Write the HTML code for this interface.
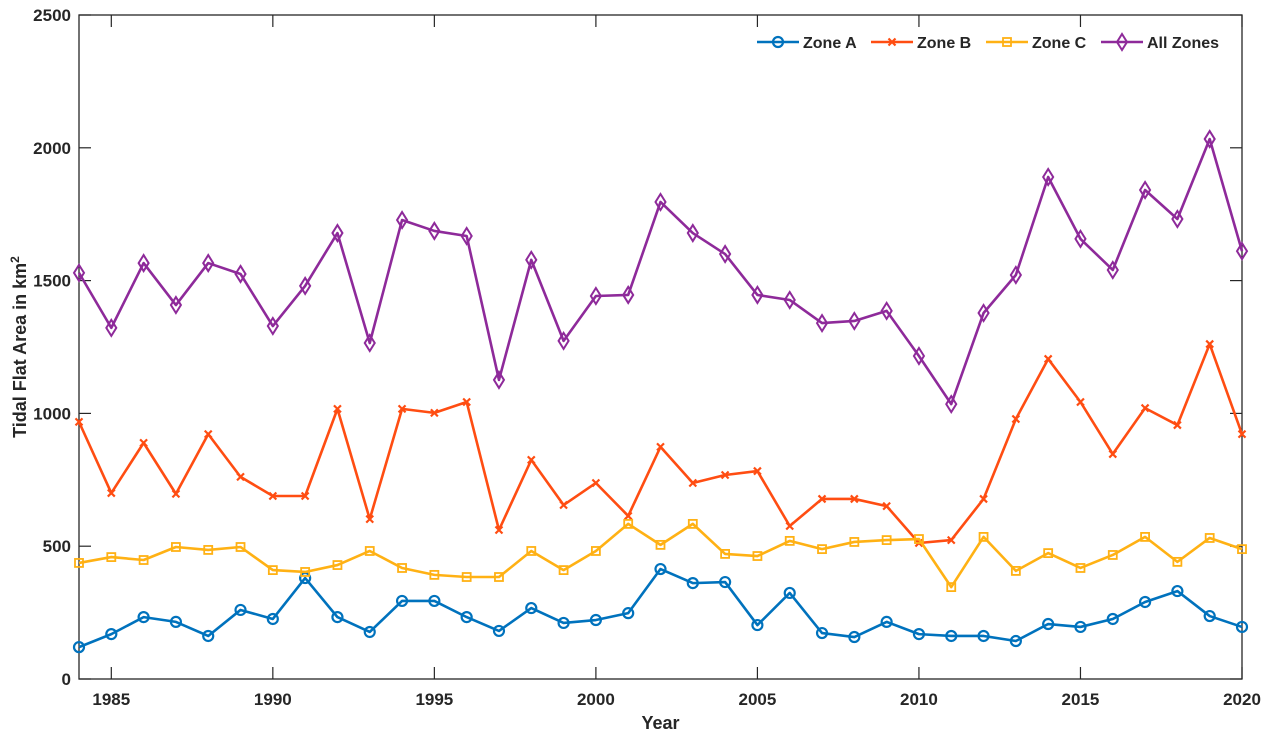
<!DOCTYPE html>
<html><head><meta charset="utf-8"><style>
body{margin:0;background:#fff;}
svg text{font-family:"Liberation Sans",Arial,sans-serif;font-weight:bold;fill:#262626;}
</style></head><body>
<svg id="chart" width="1268" height="737" xmlns="http://www.w3.org/2000/svg"></svg>
<script>
const years=[1984,1985,1986,1987,1988,1989,1990,1991,1992,1993,1994,1995,1996,1997,1998,1999,2000,2001,2002,2003,2004,2005,2006,2007,2008,2009,2010,2011,2012,2013,2014,2015,2016,2017,2018,2019,2020];
const zoneA=[120,169,233,215,162,260,226,380,233,177,294,294,233,181,267,211,222,248,414,361,365,203,324,173,158,215,169,162,162,143,207,196,226,290,331,237,196];
const zoneB=[968,700,889,697,922,761,689,689,1017,602,1017,1002,1043,561,825,655,738,614,874,738,768,783,576,678,678,651,512,523,678,979,1205,1043,847,1020,956,1261,922];
const zoneC=[437,459,448,497,486,497,410,403,429,482,418,392,384,384,482,410,482,584,505,584,471,463,520,489,516,523,527,346,535,407,474,418,467,535,441,531,489];
const allZones=[1529,1322,1566,1408,1566,1525,1329,1480,1679,1265,1728,1687,1668,1126,1578,1273,1442,1446,1796,1679,1600,1446,1427,1340,1348,1386,1216,1035,1378,1521,1890,1657,1540,1841,1732,2033,1611];
const xTicks=[1985,1990,1995,2000,2005,2010,2015,2020];
const yTicks=[0,500,1000,1500,2000,2500];
const L=79,R=1242,T=15,B=679;
const X=v=>L+(v-1984)/(2020-1984)*(R-L);
const Y=v=>B-v/2500*(B-T);
const svg=document.getElementById('chart');
const NS='http://www.w3.org/2000/svg';
function el(t,a,p){const e=document.createElementNS(NS,t);for(const k in a)e.setAttribute(k,a[k]);(p||svg).appendChild(e);return e;}
// axes box
const box=el('rect',{x:L,y:T,width:R-L,height:B-T,fill:'none',stroke:'#262626','stroke-width':1.3});


xTicks.forEach(v=>{
  el('line',{x1:X(v),x2:X(v),y1:B,y2:B-12,stroke:'#262626','stroke-width':1.2});
  el('line',{x1:X(v),x2:X(v),y1:T,y2:T+12,stroke:'#262626','stroke-width':1.2});
  const t=el('text',{x:X(v),y:B+26,'text-anchor':'middle','font-size':17});t.textContent=v;
  
  
});
yTicks.forEach(v=>{
  el('line',{x1:L,x2:L+12,y1:Y(v),y2:Y(v),stroke:'#262626','stroke-width':1.2});
  el('line',{x1:R,x2:R-12,y1:Y(v),y2:Y(v),stroke:'#262626','stroke-width':1.2});
  const t=el('text',{x:L-8,y:Y(v)+6,'text-anchor':'end','font-size':17});t.textContent=v;
  
  
});
const xt=el('text',{x:(L+R)/2,y:729,'text-anchor':'middle','font-size':18});xt.textContent='Year';


const yt=el('text',{x:0,y:0,'text-anchor':'middle','font-size':18,transform:`translate(26,${(T+B)/2}) rotate(-90)`});
yt.innerHTML='Tidal Flat Area in km<tspan font-size="12" dy="-7">2</tspan>';


function marker(type,x,y,c,g){
  if(type==='o')return el('circle',{cx:x,cy:y,r:5,fill:'none',stroke:c,'stroke-width':2.2},g);
  if(type==='s')return el('rect',{x:x-4,y:y-4,width:8,height:8,fill:'none',stroke:c,'stroke-width':1.8},g);
  if(type==='d')return el('path',{d:`M${x} ${y-8}L${x+5} ${y}L${x} ${y+8}L${x-5} ${y}Z`,fill:'none',stroke:c,'stroke-width':2},g);
  return el('path',{d:`M${x-3.5} ${y-3.5}L${x+3.5} ${y+3.5}M${x-3.5} ${y+3.5}L${x+3.5} ${y-3.5}`,stroke:c,'stroke-width':2.2},g);
}
const series=[
 {name:'Zone A',d:zoneA,c:'#0072BD',m:'o',id:'zone-a'},
 {name:'Zone B',d:zoneB,c:'#FF4D12',m:'x',id:'zone-b'},
 {name:'Zone C',d:zoneC,c:'#FFB114',m:'s',id:'zone-c'},
 {name:'All Zones',d:allZones,c:'#8E2A9A',m:'d',id:'all-zones'}];
series.forEach(s=>{
  const g=el('g',{});
  
  
  el('polyline',{points:s.d.map((v,i)=>X(years[i])+','+Y(v)).join(' '),fill:'none',stroke:s.c,'stroke-width':2.6,'stroke-linejoin':'round'},g);
  s.d.forEach((v,i)=>marker(s.m,X(years[i]),Y(v),s.c,g));
});
// legend
const lx=[757,871,986,1101];
series.forEach((s,i)=>{
  const g=el('g',{});
  
  
  el('line',{x1:lx[i],x2:lx[i]+42,y1:42,y2:42,stroke:s.c,'stroke-width':2.6},g);
  marker(s.m,lx[i]+21,42,s.c,g);
  const t=el('text',{x:lx[i]+46,y:48,'font-size':16},g);t.textContent=s.name;
});
</script>
</body></html>
